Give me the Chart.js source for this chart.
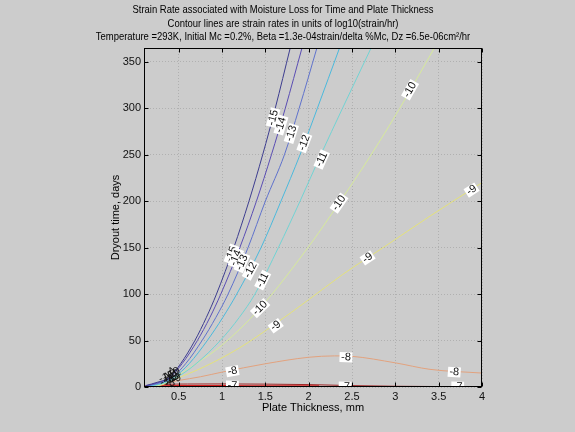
<!DOCTYPE html>
<html>
<head>
<meta charset="utf-8">
<script src="https://cdn.jsdelivr.net/npm/chart.js@4.4.0/dist/chart.umd.min.js"></script>
<style>
  html, body { margin: 0; padding: 0; background: #cccccc; }
  canvas { display: block; }
</style>
</head>
<body>
<canvas id="c" width="575" height="432"></canvas>
<script>
// axis ticks
const xTicks = [0.5, 1, 1.5, 2, 2.5, 3, 3.5, 4];
const yTicks = [0, 50, 100, 150, 200, 250, 300, 350];

// contour levels, log10(strain/hr)
const levels = [-15, -14, -13, -12, -11, -10, -9, -8, -7, -6];

// each contour: plate thickness (mm) and dryout time (days)
const thick15 = [0.12, 0.25, 0.387, 0.522, 0.687, 0.82, 0.936, 1.136, 1.311, 1.469, 1.614, 1.787];
const days15  = [1.5, 5, 10, 25, 50, 75, 100, 150, 200, 250, 300, 365];
const thick14 = [0.12, 0.26, 0.395, 0.539, 0.716, 0.861, 0.986, 1.205, 1.397, 1.57, 1.73, 1.923];
const days14  = [1.3, 4.5, 10, 25, 50, 75, 100, 150, 200, 250, 300, 365];
const thick13 = [0.12, 0.27, 0.42, 0.58, 0.77, 0.93, 1.07, 1.3, 1.5, 1.72, 1.89, 2.095];
const days13  = [1.1, 4, 10, 25, 50, 75, 100, 150, 200, 250, 300, 365];
const thick12 = [0.12, 0.28, 0.44, 0.62, 0.83, 1.01, 1.17, 1.45, 1.68, 1.9, 2.1, 2.356];
const days12  = [0.9, 3.5, 10, 25, 50, 75, 100, 150, 200, 250, 300, 365];
const thick11 = [0.12, 0.29, 0.47, 0.7, 0.98, 1.2, 1.38, 1.65, 1.9, 2.14, 2.39, 2.72];
const days11  = [0.8, 3, 10, 25, 50, 75, 100, 150, 200, 250, 300, 365];
const thick10 = [0.12, 0.3, 0.45, 0.7, 1.0, 1.44, 2.03, 2.35, 2.7, 3.05, 3.45];
const days10  = [0.7, 2.5, 10, 25, 45, 85, 155, 198, 247, 300, 365];
const thick9  = [0.12, 0.3, 0.45, 0.8, 1.2, 1.6, 2.0, 2.39, 2.89, 3.4, 4.0];
const days9   = [0.6, 2.2, 8, 22, 42, 67, 94, 121, 152, 184, 220];
const thick8  = [0.1, 0.2, 0.35, 0.5, 0.75, 1.0, 1.5, 2.0, 2.3, 2.5, 3.0, 3.4, 4.0];
const days8   = [0.3, 1.2, 4, 7, 11, 16, 25, 32, 33.5, 33, 26, 19, 15];
const thick7  = [0.2, 0.35, 0.6, 1.0, 1.5, 2.0, 2.5, 3.0, 3.5, 4.0];
const days7   = [1.5, 2.8, 3.2, 3.3, 3.1, 2.6, 1.5, 0.8, 0.5, 0.4];
const thick6  = [0.1, 0.5, 1.0, 1.5, 2.12];
const days6   = [0.8, 1.0, 1.0, 0.9, 0.8];

const curveX = [thick15, thick14, thick13, thick12, thick11, thick10, thick9, thick8, thick7, thick6];
const curveY = [days15, days14, days13, days12, days11, days10, days9, days8, days7, days6];

// inline contour labels
const labelLevel = [-15, -15, -14, -14, -13, -13, -12, -12, -11, -11, -10, -10, -10, -9, -9, -9, -8, -8, -8, -7, -7, -7];
const labelX = [1.11, 1.59, 1.16, 1.68, 1.23, 1.80, 1.33, 1.95, 1.47, 2.15, 1.44, 2.35, 3.17, 1.62, 2.68, 3.88, 1.12, 2.43, 3.68, 1.12, 2.42, 3.72];
const labelY = [143, 290, 139, 282, 134, 273, 126, 263, 115, 245, 85, 198, 320, 66, 139, 212, 17, 32, 16, 1.5, 0.4, 0.4];

// cluttered labels near the origin
const clusterLevel = [-15, -14, -13, -12, -11, -10, -9, -8];
const clusterX = [0.36, 0.39, 0.41, 0.44, 0.37, 0.43, 0.47, 0.40];
const clusterY = [11, 13, 9, 11, 7, 14, 9, 4];

const titleLines = [
  'Strain Rate associated with Moisture Loss for Time and Plate Thickness',
  'Contour lines are strain rates in units of log10(strain/hr)',
  'Temperature =293K, Initial Mc =0.2%, Beta =1.3e-04strain/delta %Mc, Dz =6.5e-06cm\u00b2/hr'
];
const xTitle = 'Plate Thickness, mm';
const yTitle = 'Dryout time, days';

const levelColors = ['#3d3d8f', '#5a4db3', '#5f72cc', '#4bb9dc', '#72d3d3',
                     '#d6ea9a', '#e4e27a', '#e2a27e', '#a02828', '#d42020'];
const FONT = '"Liberation Sans", Arial, sans-serif';

const datasets = levels.map((lv, k) => ({
  label: String(lv),
  data: curveX[k].map((x, i) => ({ x: x, y: curveY[k][i] })),
  showLine: true,
  borderColor: levelColors[k],
  borderWidth: lv === -6 ? 2 : 1,
  pointRadius: 0,
  fill: false,
  cubicInterpolationMode: 'monotone'
}));

function drawContourLabel(chart, level, x, y, boxed) {
  const ctx = chart.ctx;
  const px = chart.scales.x.getPixelForValue(x);
  const py = chart.scales.y.getPixelForValue(y);
  const pts = chart.getDatasetMeta(levels.indexOf(level)).data;
  let best = 0, bd = Infinity;
  for (let i = 0; i < pts.length - 1; i++) {
    const ax = pts[i].x, ay = pts[i].y, bx = pts[i + 1].x, by = pts[i + 1].y;
    const dx = bx - ax, dy = by - ay;
    let t = ((px - ax) * dx + (py - ay) * dy) / (dx * dx + dy * dy || 1);
    t = Math.max(0, Math.min(1, t));
    const qx = ax + t * dx - px, qy = ay + t * dy - py;
    const d = qx * qx + qy * qy;
    if (d < bd) { bd = d; best = i; }
  }
  let ang = Math.atan2(pts[best + 1].y - pts[best].y, pts[best + 1].x - pts[best].x);
  if (ang > Math.PI / 2) ang -= Math.PI;
  if (ang < -Math.PI / 2) ang += Math.PI;
  const text = String(level);
  ctx.save();
  ctx.translate(px, py);
  ctx.rotate(ang);
  ctx.font = '11px ' + FONT;
  ctx.textAlign = 'center';
  ctx.textBaseline = 'middle';
  if (boxed) {
    const w = ctx.measureText(text).width;
    ctx.fillStyle = '#ffffff';
    ctx.fillRect(-w / 2 - 1.5, -5, w + 3, 10);
  }
  ctx.fillStyle = '#111111';
  ctx.fillText(text, 0, 0);
  ctx.restore();
}

const decor = {
  id: 'decor',
  afterDatasetsDraw(chart) {
    const ctx = chart.ctx, a = chart.chartArea;
    const xs = chart.scales.x, ys = chart.scales.y;

    ctx.save();
    ctx.beginPath();
    ctx.rect(a.left, a.top, a.right - a.left, a.bottom - a.top);
    ctx.clip();
    labelLevel.forEach((lv, i) => drawContourLabel(chart, lv, labelX[i], labelY[i], true));
    clusterLevel.forEach((lv, i) => drawContourLabel(chart, lv, clusterX[i], clusterY[i], false));
    ctx.restore();

    // axes box and inward ticks
    ctx.save();
    ctx.strokeStyle = '#000000';
    ctx.lineWidth = 1;
    const L = Math.round(a.left) + 0.5, R = Math.round(a.right) - 0.5;
    const T = Math.round(a.top) + 0.5, B = Math.round(a.bottom) - 0.5;
    ctx.strokeRect(L, T, R - L, B - T);
    ctx.beginPath();
    xTicks.forEach(v => {
      const p = Math.round(xs.getPixelForValue(v)) + 0.5;
      ctx.moveTo(p, B); ctx.lineTo(p, B - 4);
      ctx.moveTo(p, T); ctx.lineTo(p, T + 4);
    });
    yTicks.forEach(v => {
      const p = Math.round(ys.getPixelForValue(v)) + 0.5;
      ctx.moveTo(L, p); ctx.lineTo(L + 4, p);
      ctx.moveTo(R, p); ctx.lineTo(R - 4, p);
    });
    ctx.stroke();
    ctx.restore();
  },
  afterDraw(chart) {
    const ctx = chart.ctx, a = chart.chartArea;
    ctx.save();
    ctx.fillStyle = '#000000';
    ctx.textAlign = 'center';
    ctx.textBaseline = 'middle';
    ctx.font = '11px ' + FONT;
    const k = 301 / ctx.measureText(titleLines[0]).width;
    const ty = [10, 23.5, 37];
    titleLines.forEach((t, i) => {
      ctx.save();
      ctx.translate(283, ty[i]);
      ctx.scale(k, 1);
      ctx.fillText(t, 0, 0);
      ctx.restore();
    });
    ctx.font = '11px ' + FONT;
    ctx.fillText(xTitle, (a.left + a.right) / 2, 408);
    ctx.save();
    ctx.translate(116, (a.top + a.bottom) / 2);
    ctx.rotate(-Math.PI / 2);
    ctx.fillText(yTitle, 0, 0);
    ctx.restore();
    ctx.restore();
  }
};

new Chart(document.getElementById('c'), {
  type: 'scatter',
  data: { datasets: datasets },
  options: {
    responsive: false,
    animation: false,
    devicePixelRatio: 1,
    layout: { padding: { top: 48, right: 93, left: 0, bottom: 0 } },
    plugins: {
      legend: { display: false },
      title: { display: false },
      tooltip: { enabled: false }
    },
    scales: {
      x: {
        type: 'linear',
        min: 0.1,
        max: 4,
        afterBuildTicks: s => { s.ticks = xTicks.map(v => ({ value: v })); },
        afterFit: s => { s.height = 45; },
        ticks: { color: '#111111', font: { family: FONT, size: 11 }, padding: 3,
                 maxRotation: 0, autoSkip: false, callback: v => String(v) },
        grid: { color: '#b0b0b0', drawTicks: false, lineWidth: 1 },
        border: { display: false, dash: [1, 2] }
      },
      y: {
        type: 'linear',
        min: 0,
        max: 365,
        afterBuildTicks: s => { s.ticks = yTicks.map(v => ({ value: v })); },
        afterFit: s => { s.width = 144; },
        ticks: { color: '#111111', font: { family: FONT, size: 11 }, padding: 3,
                 autoSkip: false, callback: v => String(v) },
        grid: { color: '#b0b0b0', drawTicks: false, lineWidth: 1 },
        border: { display: false, dash: [1, 2] }
      }
    }
  },
  plugins: [decor]
});
</script>
</body>
</html>
